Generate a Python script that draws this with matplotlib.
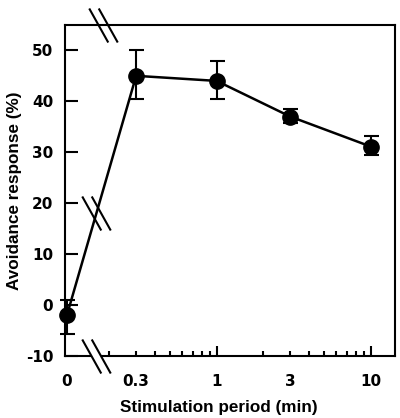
import numpy as np
import matplotlib
matplotlib.use("Agg")
import matplotlib.pyplot as plt
from matplotlib.path import Path

# data
period = [0, 0.3, 1, 3, 10]          # min
response = [-2.0, 45.0, 44.0, 37.0, 31.1]   # %
err_low = [3.8, 4.6, 3.6, 1.2, 1.7]
err_high = [3.0, 5.0, 4.0, 1.4, 2.1]

tick_labels = ["0", "0.3", "1", "3", "10"]
minor_locs = [0, 0.2, 0.3, 0.4, 0.5, 0.6, 0.7, 0.8, 0.9, 2, 3, 4, 5, 6, 7, 8, 9]

plt.rcParams['font.family'] = ['Liberation Sans', 'DejaVu Sans']
plt.rcParams['font.weight'] = 'bold'
plt.rcParams['font.size'] = 12.3
tick_font = {'family': 'DejaVu Sans', 'weight': 'bold', 'size': 11}

# broken x scale: linear from 0 to A, log above A
A = 0.2
LA = np.log10(A)
C = -0.972  # position of x=0, in decades


def fwd(x):
    x = np.asarray(x, dtype=float)
    return np.where(x < A, C + x / A * (LA - C), np.log10(np.maximum(x, A)))


def inv(y):
    y = np.asarray(y, dtype=float)
    return np.where(y < LA, (y - C) / (LA - C) * A, 10 ** np.maximum(y, LA))


fig = plt.figure(figsize=(4.0, 4.18), dpi=100)
ax = fig.add_axes([0.1625, 0.1493, 0.825, 0.791])
ax.set_xscale('function', functions=(fwd, inv))

ax.errorbar(period, response, yerr=[err_low, err_high], fmt='-o', color='k',
            ms=11, lw=1.8, elinewidth=1.5, capsize=5.4, capthick=1.5,
            clip_on=False, zorder=4)

ax.set_xlim(float(inv(-0.985)), 14.4)
ax.set_ylim(-10, 55)

# ticks
ax.set_xticks([1, 10])
ax.set_xticklabels(["1", "10"], fontdict=tick_font)
ax.set_xticks(minor_locs, minor=True)
ax.set_xticklabels([t if t in tick_labels else "" for t in
                    [("%g" % v) for v in minor_locs]], minor=True, fontdict=tick_font)
ax.tick_params(axis='x', which='major', direction='in', length=7.5, width=1.5, pad=13)
ax.tick_params(axis='x', which='minor', direction='in', length=3.5, width=1.5, pad=13)
ax.xaxis.get_minor_ticks()[0].tick1line.set_visible(False)
ax.set_yticks(np.arange(-10, 51, 10))
ax.set_yticklabels([str(v) for v in range(-10, 51, 10)], fontdict=tick_font)
ax.tick_params(axis='y', direction='in', length=9, width=1.5, pad=8.5)
for s in ax.spines.values():
    s.set_linewidth(1.5)

ax.set_xlabel("Stimulation period (min)", fontweight='bold')
ax.xaxis.set_label_coords(0.465, -0.134)
ax.set_ylabel("Avoidance response (%)", fontweight='bold')
ax.yaxis.set_label_coords(-0.13, 0.5)

# break marks
w = 14.25
slash = Path([(-w, 17), (w - 9.5, -17), (-w + 9.5, 17), (w, -17)],
             [Path.MOVETO, Path.LINETO, Path.MOVETO, Path.LINETO])
gap = Path([(-w, 17), (-w + 9.5, 17), (w, -17), (w - 9.5, -17), (-w, 17)],
           [Path.MOVETO, Path.LINETO, Path.LINETO, Path.LINETO, Path.CLOSEPOLY])
bx = 0.14
tx = 0.17
xt = ax.get_xaxis_transform()
ax.plot([bx], [0], transform=xt, marker=gap, ms=24.5, mfc='white', mec='none',
        ls='none', clip_on=False, zorder=5)
ax.plot([bx], [0], transform=xt, marker=slash, ms=24.5, mfc='none', mec='k',
        mew=1.5, ls='none', clip_on=False, zorder=6)
ax.plot([tx], [1], transform=xt, marker=slash, ms=24.5, mfc='none', mec='k',
        mew=1.5, ls='none', clip_on=False, zorder=6)
# break on the data line between 0 and 0.3
f0, f1, fb = fwd(period[0]), fwd(period[1]), fwd(bx)
yb = response[0] + (fb - f0) / (f1 - f0) * (response[1] - response[0])
ax.plot([bx], [yb], marker=slash, ms=24.5, mfc='none', mec='k', mew=1.5,
        ls='none', clip_on=False, zorder=6)

fig.savefig("out.png", dpi=100)
